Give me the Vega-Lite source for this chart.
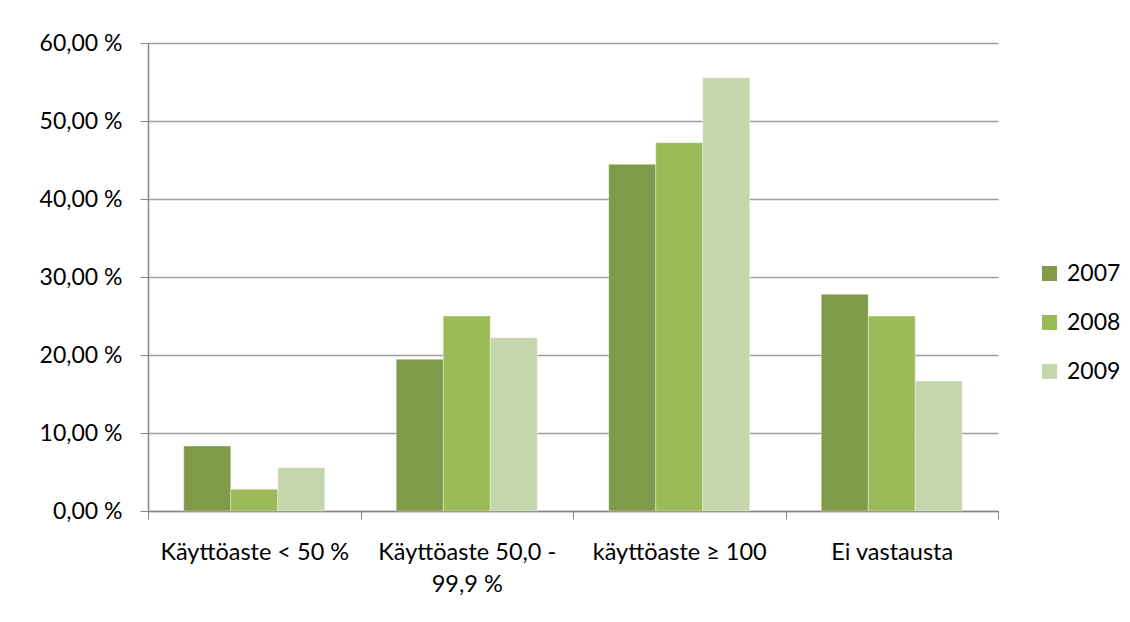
{
  "$schema": "https://vega.github.io/schema/vega-lite/v6.json",
  "autosize": "none",
  "width": 850,
  "height": 468,
  "padding": {"left": 148, "top": 43, "right": 132, "bottom": 111},
  "background": "white",
  "config": {
    "font": "Lato",
    "view": {"stroke": null}
  },
  "data": {
    "values": [
      {"cat": "Käyttöaste < 50 %", "year": "2007", "value": 8.33},
      {"cat": "Käyttöaste < 50 %", "year": "2008", "value": 2.78},
      {"cat": "Käyttöaste < 50 %", "year": "2009", "value": 5.56},
      {"cat": "Käyttöaste 50,0 - 99,9 %", "year": "2007", "value": 19.44},
      {"cat": "Käyttöaste 50,0 - 99,9 %", "year": "2008", "value": 25.0},
      {"cat": "Käyttöaste 50,0 - 99,9 %", "year": "2009", "value": 22.22},
      {"cat": "käyttöaste ≥ 100", "year": "2007", "value": 44.44},
      {"cat": "käyttöaste ≥ 100", "year": "2008", "value": 47.22},
      {"cat": "käyttöaste ≥ 100", "year": "2009", "value": 55.56},
      {"cat": "Ei vastausta", "year": "2007", "value": 27.78},
      {"cat": "Ei vastausta", "year": "2008", "value": 25.0},
      {"cat": "Ei vastausta", "year": "2009", "value": 16.67}
    ]
  },
  "mark": {"type": "bar", "stroke": "#ffffff", "strokeOpacity": 0.35, "strokeWidth": 1},
  "encoding": {
    "x": {
      "field": "cat",
      "type": "nominal",
      "sort": ["Käyttöaste < 50 %", "Käyttöaste 50,0 - 99,9 %", "käyttöaste ≥ 100", "Ei vastausta"],
      "scale": {"paddingInner": 0, "paddingOuter": 0},
      "axis": {
        "title": null,
        "labelAngle": 0,
        "labelFontSize": 23.5,
        "labelColor": "#000000",
        "labelLineHeight": 32,
        "labelBaseline": "top",
        "labelPadding": 21,
        "labelLimit": 0,
        "tickSize": 8,
        "tickBand": "extent",
        "tickColor": "#868686",
        "domainColor": "#868686",
        "domainWidth": 1.5,
        "grid": false,
        "labelExpr": "datum.label == 'Käyttöaste 50,0 - 99,9 %' ? ['Käyttöaste 50,0 -', '99,9 %'] : datum.label"
      }
    },
    "xOffset": {"field": "year", "type": "nominal", "scale": {"paddingInner": 0, "paddingOuter": 0.76}},
    "y": {
      "field": "value",
      "type": "quantitative",
      "scale": {"domain": [0, 60], "nice": false},
      "axis": {
        "title": null,
        "values": [0, 10, 20, 30, 40, 50, 60],
        "labelFontSize": 23,
        "labelColor": "#000000",
        "labelPadding": 18,
        "tickSize": 8,
        "tickColor": "#868686",
        "domainColor": "#868686",
        "domainWidth": 1.5,
        "gridColor": "#a0a0a0",
        "gridWidth": 1.5,
        "labelExpr": "replace(format(datum.value, '.2f'), '.', ',') + ' %'"
      }
    },
    "color": {
      "field": "year",
      "type": "nominal",
      "scale": {"domain": ["2007", "2008", "2009"], "range": ["#7f9a48", "#9bbb59", "#c6d6ac"]},
      "legend": {
        "title": null,
        "orient": "none",
        "legendX": 890,
        "legendY": 219,
        "padding": 0,
        "symbolType": "square",
        "symbolSize": 225,
        "symbolStrokeWidth": 0,
        "labelFontSize": 23,
        "labelColor": "#000000",
        "labelOffset": 6,
        "rowPadding": 25
      }
    }
  }
}
